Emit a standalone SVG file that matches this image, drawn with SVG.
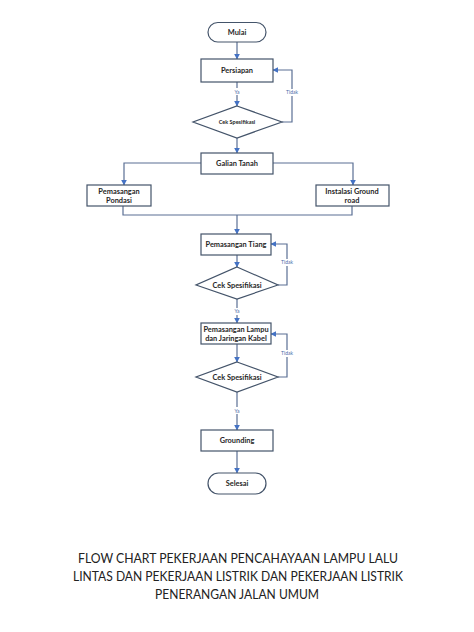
<svg xmlns="http://www.w3.org/2000/svg" width="474" height="632" viewBox="0 0 474 632">
<style>
.box{fill:#fff;stroke:#44546a;stroke-width:1.2}
.ln{fill:none;stroke:#5a6f94;stroke-width:1.2}
.t{font-family:Lato,"Liberation Sans",sans-serif;font-weight:bold;fill:#262626;text-anchor:middle}
.b{font-size:7.4px}
.s{font-size:5.5px}
.lab{font-family:Lato,"Liberation Sans",sans-serif;font-size:5px;fill:#4a6aa8;text-anchor:middle}
.title{font-family:Lato,"Liberation Sans",sans-serif;font-size:12.5px;fill:#222;text-anchor:middle}
</style>
<defs>
<marker id="ah" viewBox="0 0 10 10" refX="9" refY="5" markerWidth="5" markerHeight="5" orient="auto">
<path d="M0,0 L10,5 L0,10 z" fill="#4472c4"/>
</marker>
</defs>
<rect width="474" height="632" fill="#fff"/>
<g id="connectors">
<line class="ln" x1="237" y1="42" x2="237" y2="59" marker-end="url(#ah)"/>
<line class="ln" x1="237" y1="82" x2="237" y2="106" marker-end="url(#ah)"/>
<polyline class="ln" points="282,122 292,122 292,70 273,70" marker-end="url(#ah)"/>
<line class="ln" x1="237" y1="138" x2="237" y2="153" marker-end="url(#ah)"/>
<polyline class="ln" points="201,163 124,163 124,185" marker-end="url(#ah)"/>
<polyline class="ln" points="273,163 353,163 353,185" marker-end="url(#ah)"/>
<polyline class="ln" points="123,206 123,215 352,215 352,206"/>
<line class="ln" x1="237" y1="215" x2="237" y2="234" marker-end="url(#ah)"/>
<line class="ln" x1="237" y1="255" x2="237" y2="267" marker-end="url(#ah)"/>
<polyline class="ln" points="278,285 287,285 287,244 271,244" marker-end="url(#ah)"/>
<line class="ln" x1="237" y1="299" x2="237" y2="323" marker-end="url(#ah)"/>
<line class="ln" x1="237" y1="344" x2="237" y2="362" marker-end="url(#ah)"/>
<polyline class="ln" points="278,377 287,377 287,334 271,334" marker-end="url(#ah)"/>
<line class="ln" x1="237" y1="392" x2="237" y2="430" marker-end="url(#ah)"/>
<line class="ln" x1="237" y1="451" x2="237" y2="473" marker-end="url(#ah)"/>
<rect x="231" y="88" width="12" height="7" fill="#fff"/>
<text class="lab" x="237" y="94">Ya</text>
<rect x="283" y="89" width="18" height="7" fill="#fff"/>
<text class="lab" x="292" y="94">Tidak</text>
<rect x="278" y="259" width="18" height="7" fill="#fff"/>
<text class="lab" x="287" y="264">Tidak</text>
<rect x="231" y="308" width="12" height="7" fill="#fff"/>
<text class="lab" x="237" y="313">Ya</text>
<rect x="278" y="350" width="18" height="7" fill="#fff"/>
<text class="lab" x="287" y="355">Tidak</text>
<rect x="231" y="407" width="12" height="7" fill="#fff"/>
<text class="lab" x="237" y="413">Ya</text>
</g>
<g id="mulai">
<rect class="box" x="208" y="22.5" width="58" height="19.5" rx="9.75"/>
<text class="t b" x="237" y="35">Mulai</text>
</g>
<g id="persiapan">
<rect class="box" x="201" y="59" width="72" height="23"/>
<text class="t b" x="237" y="73">Persiapan</text>
</g>
<g id="cek1">
<polygon class="box" points="237,106 282,122 237,138 193,122"/>
<text class="t s" x="237" y="124">Cek Spesifikasi</text>
</g>
<g id="galian">
<rect class="box" x="201" y="153" width="72" height="21"/>
<text class="t b" x="237" y="166">Galian Tanah</text>
</g>
<g id="pondasi">
<rect class="box" x="87" y="185" width="64" height="21"/>
<text class="t b" x="119" y="194">Pemasangan</text>
<text class="t b" x="119" y="203">Pondasi</text>
</g>
<g id="ground">
<rect class="box" x="316" y="185" width="73" height="21"/>
<text class="t b" x="352" y="194">Instalasi Ground</text>
<text class="t b" x="352" y="203">road</text>
</g>
<g id="tiang">
<rect class="box" x="201" y="234" width="70" height="21"/>
<text class="t b" x="236" y="247">Pemasangan Tiang</text>
</g>
<g id="cek2">
<polygon class="box" points="237,267 278,285 237,299 196,285"/>
<text class="t b" x="237" y="288">Cek Spesifikasi</text>
</g>
<g id="lampu">
<rect class="box" x="201" y="323" width="70" height="21"/>
<text class="t b" x="236" y="332">Pemasangan Lampu</text>
<text class="t b" x="236" y="341">dan Jaringan Kabel</text>
</g>
<g id="cek3">
<polygon class="box" points="237,362 278,377 237,392 196,377"/>
<text class="t b" x="237" y="380">Cek Spesifikasi</text>
</g>
<g id="grounding">
<rect class="box" x="201" y="430" width="72" height="21"/>
<text class="t b" x="237" y="443">Grounding</text>
</g>
<g id="selesai">
<rect class="box" x="208" y="473" width="58" height="21" rx="10.5"/>
<text class="t b" x="237" y="486">Selesai</text>
</g>
<g id="title">
<text class="title" x="238" y="563" textLength="320" lengthAdjust="spacingAndGlyphs">FLOW CHART PEKERJAAN PENCAHAYAAN LAMPU LALU</text>
<text class="title" x="238" y="581" textLength="330" lengthAdjust="spacingAndGlyphs">LINTAS DAN PEKERJAAN LISTRIK DAN PEKERJAAN LISTRIK</text>
<text class="title" x="237" y="599" textLength="164" lengthAdjust="spacingAndGlyphs">PENERANGAN JALAN UMUM</text>
</g>
</svg>
